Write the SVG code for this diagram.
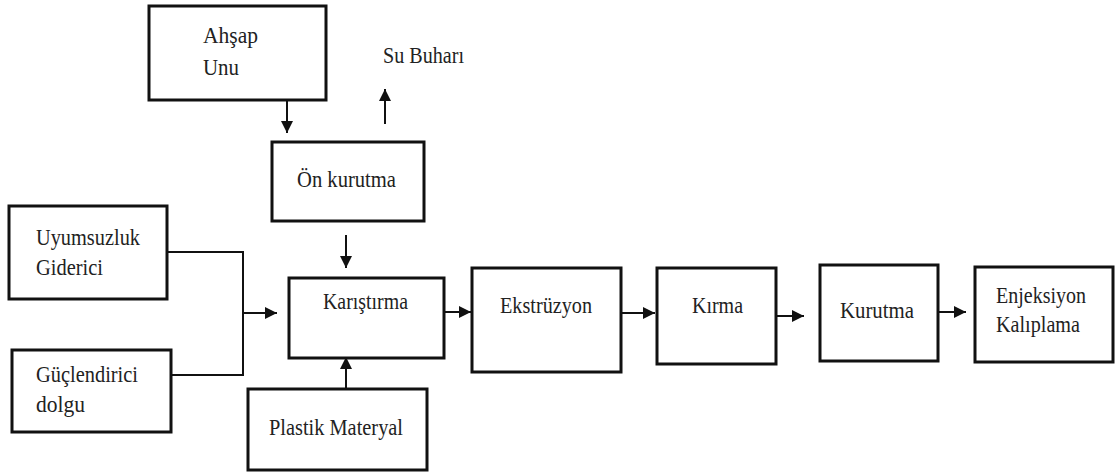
<svg xmlns="http://www.w3.org/2000/svg" width="1116" height="472" viewBox="0 0 1116 472">
<style>
.box{fill:#fff;stroke:#111;stroke-width:3}
.c{fill:none;stroke:#111;stroke-width:2}
</style>
<defs>
<marker id="ah" viewBox="0 0 10 10" refX="10" refY="5" markerWidth="6" markerHeight="6" orient="auto" markerUnits="strokeWidth">
<path d="M0,0 L10,5 L0,10 Z" fill="#111"/>
</marker>
</defs>
<rect width="1116" height="472" fill="#fff"/>
<g id="connectors">
<line class="c" x1="287" y1="100" x2="287" y2="133" marker-end="url(#ah)"/>
<line class="c" x1="385" y1="124" x2="385" y2="89" marker-end="url(#ah)"/>
<line class="c" x1="346" y1="235" x2="346" y2="268" marker-end="url(#ah)"/>
<polyline class="c" points="167,252 243,252 243,375 170,375"/>
<line class="c" x1="243" y1="313" x2="277" y2="313" marker-end="url(#ah)"/>
<line class="c" x1="346" y1="389" x2="346" y2="357" marker-end="url(#ah)"/>
<line class="c" x1="444" y1="312" x2="471" y2="312" marker-end="url(#ah)"/>
<line class="c" x1="621" y1="313" x2="655" y2="313" marker-end="url(#ah)"/>
<line class="c" x1="776" y1="316" x2="804" y2="316" marker-end="url(#ah)"/>
<line class="c" x1="938" y1="312" x2="966" y2="312" marker-end="url(#ah)"/>
</g>
<g font-family="'Liberation Serif', 'DejaVu Serif', serif" font-size="23" fill="#222">
<g id="ahsap">
<rect class="box" x="149" y="6" width="177" height="94"/>
<text x="203" y="43" textLength="55" lengthAdjust="spacingAndGlyphs">Ahşap</text>
<text x="203" y="75" textLength="36" lengthAdjust="spacingAndGlyphs">Unu</text>
</g>
<g id="subuhari">
<text x="383" y="63" textLength="81" lengthAdjust="spacingAndGlyphs">Su Buharı</text>
</g>
<g id="onkurutma">
<rect class="box" x="272" y="142" width="152" height="79"/>
<text x="297" y="187" textLength="99" lengthAdjust="spacingAndGlyphs">Ön kurutma</text>
</g>
<g id="uyumsuzluk">
<rect class="box" x="9" y="206" width="158" height="93"/>
<text x="36" y="245" textLength="104" lengthAdjust="spacingAndGlyphs">Uyumsuzluk</text>
<text x="36" y="275" textLength="67" lengthAdjust="spacingAndGlyphs">Giderici</text>
</g>
<g id="guclendirici">
<rect class="box" x="12" y="350" width="159" height="82"/>
<text x="36" y="382" textLength="102" lengthAdjust="spacingAndGlyphs">Güçlendirici</text>
<text x="36" y="412" textLength="49" lengthAdjust="spacingAndGlyphs">dolgu</text>
</g>
<g id="karistirma">
<rect class="box" x="289" y="278" width="155" height="80"/>
<text x="323" y="309" textLength="85" lengthAdjust="spacingAndGlyphs">Karıştırma</text>
</g>
<g id="plastik">
<rect class="box" x="248" y="389" width="179" height="81"/>
<text x="269" y="435" textLength="134" lengthAdjust="spacingAndGlyphs">Plastik Materyal</text>
</g>
<g id="ekstruzyon">
<rect class="box" x="472" y="268" width="149" height="104"/>
<text x="500" y="313" textLength="92" lengthAdjust="spacingAndGlyphs">Ekstrüzyon</text>
</g>
<g id="kirma">
<rect class="box" x="657" y="268" width="119" height="96"/>
<text x="692" y="313" textLength="51" lengthAdjust="spacingAndGlyphs">Kırma</text>
</g>
<g id="kurutma">
<rect class="box" x="820" y="265" width="118" height="96"/>
<text x="840" y="318" textLength="74" lengthAdjust="spacingAndGlyphs">Kurutma</text>
</g>
<g id="enjeksiyon">
<rect class="box" x="975" y="267" width="138" height="95"/>
<text x="996" y="303" textLength="90" lengthAdjust="spacingAndGlyphs">Enjeksiyon</text>
<text x="996" y="332" textLength="84" lengthAdjust="spacingAndGlyphs">Kalıplama</text>
</g>
</g>
</svg>
